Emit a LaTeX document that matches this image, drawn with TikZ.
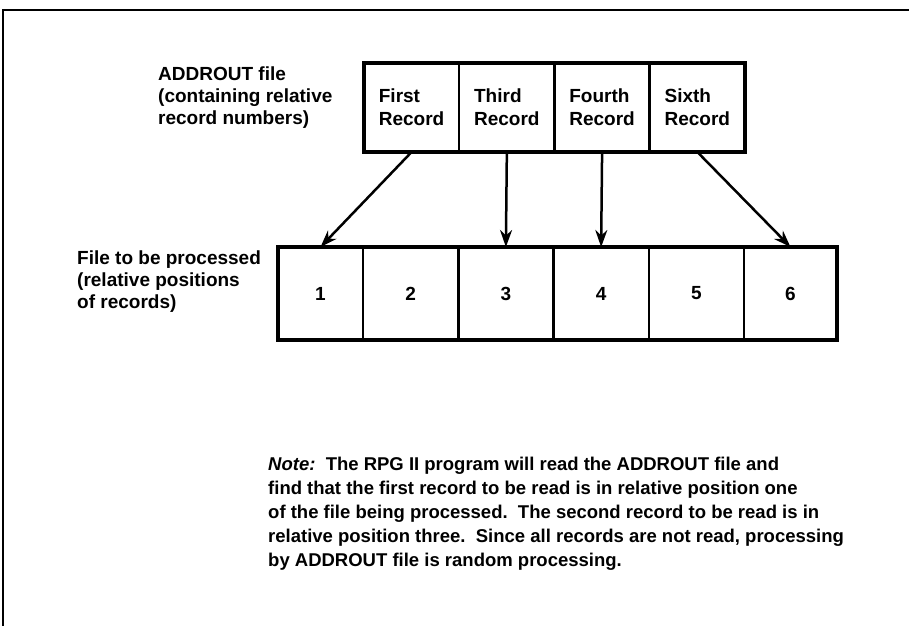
\documentclass[tikz,border=0pt]{standalone}
\usepackage{fontspec}
\setmainfont{Liberation Sans}
\usetikzlibrary{arrows.meta,positioning}

\begin{document}
\begin{tikzpicture}[x=1pt, y=-1pt, >={Stealth[length=17pt,width=12pt]}, node distance=0pt, font=\bfseries\fontsize{19}{22}\selectfont]
\tikzstyle{record}=[draw=black, line width=2.5pt, minimum width=95.25pt, minimum height=89pt, outer sep=0pt, inner sep=0pt, align=left, font=\bfseries\fontsize{19}{23}\selectfont]
\tikzstyle{slot}=[draw=black, line width=2.5pt, minimum width=95.25pt, minimum height=93pt, outer sep=0pt, inner sep=0pt]
\tikzstyle{lbl}=[anchor=north west, inner sep=0pt, align=left]
\useasboundingbox (0,0) rectangle (909,626);
\draw[line width=2.5pt] (909,10) -- (3,10) -- (3,626);
% ADDROUT file
\node[lbl]    (addr)                    at (158,67) {ADDROUT file\\(containing relative\\record numbers)};
\node[record] (first)                   at (411.6,107.5) {First\\Record};
\node[record] (third)  [right=of first]  {Third\\Record};
\node[record] (fourth) [right=of third]  {Fourth\\Record};
\node[record] (sixth)  [right=of fourth] {Sixth\\Record};
\draw[line width=3.5pt] (first.north west) rectangle (sixth.south east);
% file to be processed
\node[lbl]    (proc)                    at (77,251) {File to be processed\\(relative positions\\of records)};
\node[slot, minimum width=85pt] (p1) at (320.5,293.5) {1};
\node[slot]   (p2) [right=of p1] {2};
\node[slot]   (p3) [right=of p2] {3};
\node[slot]   (p4) [right=of p3] {4};
\node[slot]   (p5) [right=of p4] {5};
\node[slot, minimum width=93pt] (p6) [right=of p5] {6};
\draw[line width=3.5pt] (p1.north west) rectangle (p6.south east);
\path[->, line width=2.5pt]
(first.south)  edge (p1.north)
(third.south)  edge (p3.north)
(fourth.south) edge (p4.north)
(sixth.south)  edge (p6.north);
% note
\node[lbl, font=\bfseries\fontsize{18.5}{24}\selectfont] (note) at (268,457)
  {\textit{Note:}\ \ The RPG II program will read the ADDROUT file and\\
   find that the first record to be read is in relative position one\\
   of the file being processed.\ \ The second record to be read is in\\
   relative position three.\ \ Since all records are not read, processing\\
   by ADDROUT file is random processing.};
\end{tikzpicture}
\end{document}
